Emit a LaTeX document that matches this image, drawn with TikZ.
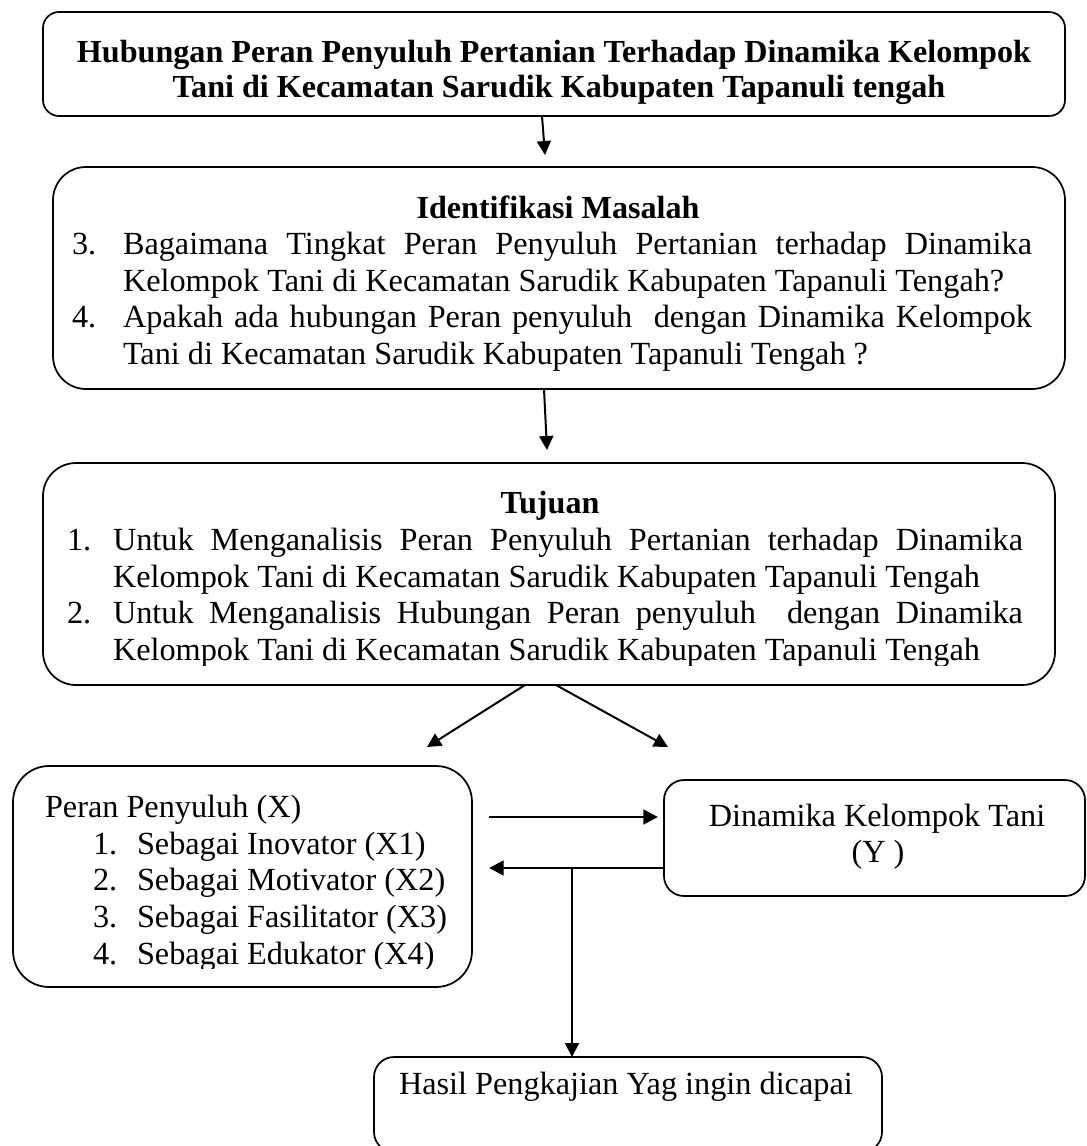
\documentclass[tikz,border=0pt]{standalone}
\usepackage{fontspec}
\setmainfont{Liberation Serif}
\usetikzlibrary{arrows.meta}
\begin{document}
\begin{tikzpicture}[x=0.75pt,y=-0.75pt,
  every node/.style={inner sep=0pt, outer sep=0pt},
  boxnode/.style={draw, line width=1.3pt, rectangle},
  txt/.style={anchor=base west, font=\fontsize{24.2pt}{27pt}\selectfont},
  txtc/.style={anchor=base, font=\fontsize{24.2pt}{27pt}\selectfont},
  ttl/.style={anchor=base, font=\fontsize{24.1pt}{27pt}\selectfont\bfseries},
  arr/.style={line width=1.5pt, -{Triangle[length=10.5pt,width=10.5pt]}},
  harr/.style={line width=2pt, -{Triangle[length=11pt,width=11pt]}},
]
\useasboundingbox (0,0) rectangle (1087,1146);
\fill[white] (0,0) rectangle (1087,1146);
\clip (0,0) rectangle (1087,1146);

% ---------- boxes ----------
\node[boxnode, rounded corners=12pt, minimum width=766.5pt, minimum height=78pt] (b1) at (554,64) {};
\node[boxnode, rounded corners=24.75pt, minimum width=759pt, minimum height=166.5pt] (b2) at (559,278) {};
\node[boxnode, rounded corners=24.75pt, minimum width=759pt, minimum height=166.5pt] (b3) at (549,574) {};
\node[boxnode, rounded corners=27pt, minimum width=344.25pt, minimum height=165.75pt] (b4) at (242.5,876.5) {};
\node[boxnode, rounded corners=15pt, minimum width=315.75pt, minimum height=87pt] (b5) at (874.5,838) {};
\node[boxnode, rounded corners=15pt, minimum width=381pt, minimum height=71.25pt] (b6) at (628,1104.5) {};

% ---------- box 1 text ----------
\node[ttl] (t1a) at (554,62) {Hubungan Peran Penyuluh Pertanian Terhadap Dinamika Kelompok};
\node[ttl] (t1b) at (559,97) {Tani di Kecamatan Sarudik Kabupaten Tapanuli tengah};

% ---------- box 2 text ----------
\node[ttl] (t2) at (558,218) {Identifikasi Masalah};
\node[txt] (n2a) at (72,254) {3.};
\node[txt] (l2a) at (123,254) {\makebox[681.75pt][s]{Bagaimana Tingkat Peran Penyuluh Pertanian terhadap Dinamika}};
\node[txt] (l2b) at (123,291) {Kelompok Tani di Kecamatan Sarudik Kabupaten Tapanuli Tengah?};
\node[txt] (n2c) at (72,327) {4.};
\node[txt] (l2c) at (123,327) {\makebox[681.75pt][s]{Apakah ada hubungan Peran penyuluh \ dengan Dinamika Kelompok}};
\begin{scope}
\clip (50,330) rectangle (1060,370);
\node[txt] (l2d) at (123,364) {Tani di Kecamatan Sarudik Kabupaten Tapanuli Tengah ?};
\end{scope}

% ---------- box 3 text ----------
\node[ttl] (t3) at (550,513) {Tujuan};
\node[txt] (n3a) at (67,550) {1.};
\node[txt] (l3a) at (113,550) {\makebox[682.5pt][s]{Untuk Menganalisis Peran Penyuluh Pertanian terhadap Dinamika}};
\node[txt] (l3b) at (113,587) {Kelompok Tani di Kecamatan Sarudik Kabupaten Tapanuli Tengah};
\node[txt] (n3c) at (67,623) {2.};
\node[txt] (l3c) at (113,623) {\makebox[682.5pt][s]{Untuk Menganalisis Hubungan Peran penyuluh \ dengan Dinamika}};
\begin{scope}
\clip (40,628) rectangle (1060,665);
\node[txt] (l3d) at (113,660) {Kelompok Tani di Kecamatan Sarudik Kabupaten Tapanuli Tengah};
\end{scope}

% ---------- box 4 text ----------
\node[txt] (p0) at (45,817) {Peran Penyuluh (X)};
\node[txt] (q1) at (93,854) {1.};
\node[txt] (p1) at (137,854) {Sebagai Inovator (X1)};
\node[txt] (q2) at (93,890) {2.};
\node[txt] (p2) at (137,890) {Sebagai Motivator (X2)};
\node[txt] (q3) at (93,927) {3.};
\node[txt] (p3) at (137,927) {Sebagai Fasilitator (X3)};
\begin{scope}
\clip (20,935) rectangle (470,968);
\node[txt] (q4) at (93,964) {4.};
\node[txt] (p4) at (137,964) {Sebagai Edukator (X4)};
\end{scope}

% ---------- box 5 and 6 text ----------
\node[txtc] (d1) at (877,826) {Dinamika Kelompok Tani};
\node[txtc] (d2) at (878,862) {(Y )};
\node[txt] (h1) at (399,1094) {Hasil Pengkajian Yag ingin dicapai};

% ---------- connectors ----------
\coordinate (e1) at (545,155);
\draw[arr] ([xshift=-9pt]b1.south) -- (e1);
\coordinate (e2) at (547,450);
\draw[arr] ([xshift=-11.25pt]b2.south) -- (e2);
\coordinate (e3) at (427,747);
\draw[arr] ([xshift=-18pt]b3.south) -- (e3);
\coordinate (e4) at (668,747);
\draw[arr] ([xshift=5.25pt]b3.south) -- (e4);
\coordinate (s5) at (489,817);
\coordinate (e5) at (658,817);
\draw[harr] (s5) -- (e5);
\coordinate (e6) at (489,868);
\draw[harr] ([yshift=-22.5pt]b5.west) -- (e6);
\coordinate (j1) at (572,868);
\draw[arr] (j1) -- (b6.north -| j1);
\end{tikzpicture}
\end{document}
